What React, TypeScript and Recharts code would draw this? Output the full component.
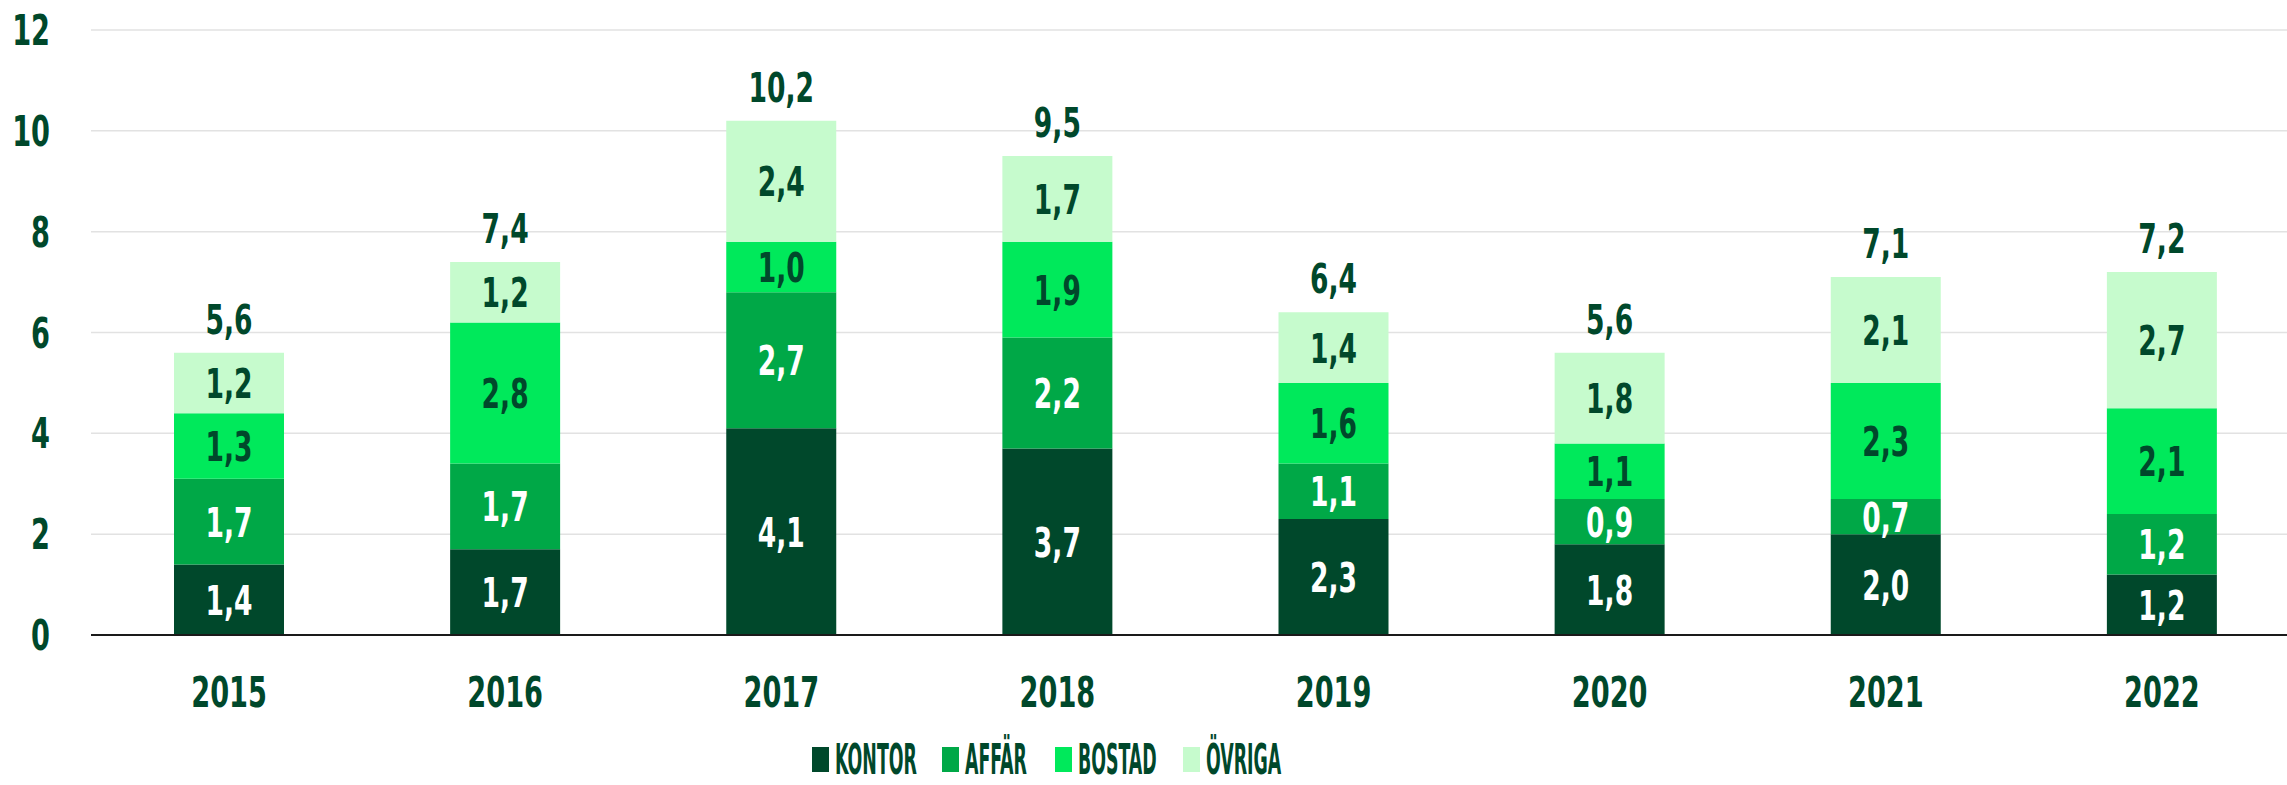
import React from "react";
import {
  BarChart,
  Bar,
  XAxis,
  YAxis,
  CartesianGrid,
  Legend,
  LabelList,
} from "recharts";

const YEARS = ["2015", "2016", "2017", "2018", "2019", "2020", "2021", "2022"];
const KONTOR = [1.4, 1.7, 4.1, 3.7, 2.3, 1.8, 2.0, 1.2];
const AFFAR = [1.7, 1.7, 2.7, 2.2, 1.1, 0.9, 0.7, 1.2];
const BOSTAD = [1.3, 2.8, 1.0, 1.9, 1.6, 1.1, 2.3, 2.1];
const OVRIGA = [1.2, 1.2, 2.4, 1.7, 1.4, 1.8, 2.1, 2.7];
const TOTALS = [5.6, 7.4, 10.2, 9.5, 6.4, 5.6, 7.1, 7.2];
const Y_TICKS = [0, 2, 4, 6, 8, 10, 12];

const DARK = "#00482B";
const FONT = "'DejaVu Sans Condensed', 'Liberation Sans Narrow', sans-serif";
// no condensed display font available, so squeeze the glyphs a bit
const SQUEEZE = 0.72;
const LEGEND_SQUEEZE = 0.46;

const SERIES = [
  { key: "kontor", name: "KONTOR", color: "#00482B", text: "#ffffff", w: 82 },
  { key: "affar", name: "AFFÄR", color: "#00A847", text: "#ffffff", w: 65 },
  { key: "bostad", name: "BOSTAD", color: "#00E95B", text: DARK, w: 80 },
  { key: "ovriga", name: "ÖVRIGA", color: "#C6FBCD", text: DARK, w: 76 },
];

const data = YEARS.map((year, i) => ({
  year,
  kontor: KONTOR[i],
  affar: AFFAR[i],
  bostad: BOSTAD[i],
  ovriga: OVRIGA[i],
  total: TOTALS[i],
}));

const fmt = (v: number) => v.toFixed(1).replace(".", ",");

function NarrowText({ x, y, anchor = "middle", fill = DARK, size = 42, squeeze = SQUEEZE, children }: any) {
  return (
    <text
      transform={`translate(${x},${y}) scale(${squeeze},1)`}
      x={0}
      y={0}
      textAnchor={anchor}
      fill={fill}
      fontSize={size}
      fontWeight={700}
      fontFamily={FONT}
    >
      {children}
    </text>
  );
}

function XTick({ x, y, payload }: any) {
  return (
    <NarrowText x={x} y={y + 72}>
      {payload.value}
    </NarrowText>
  );
}

function YTick({ x, y, payload }: any) {
  return (
    <NarrowText x={x - 41} y={y + 15} anchor="end">
      {payload.value}
    </NarrowText>
  );
}

function segmentLabel(color: string) {
  return ({ x, y, width, height, value }: any) => (
    <NarrowText x={x + width / 2} y={y + height / 2 + 15} fill={color} size={41}>
      {fmt(value)}
    </NarrowText>
  );
}

function TotalLabel({ x, y, width, index }: any) {
  return (
    <NarrowText x={x + width / 2} y={y - 19} size={41}>
      {fmt(TOTALS[index])}
    </NarrowText>
  );
}

function LegendContent() {
  let cx = 812;
  const items = SERIES.map((s) => {
    const x0 = cx;
    cx += 23 + s.w + 25;
    return (
      <g key={s.key}>
        <rect x={x0} y={18} width={17} height={25} fill={s.color} />
        <NarrowText x={x0 + 23} y={45} anchor="start" squeeze={LEGEND_SQUEEZE}>
          {s.name}
        </NarrowText>
      </g>
    );
  });
  return (
    <svg width={2287} height={56} style={{ display: "block" }}>
      {items}
    </svg>
  );
}

export default function App() {
  return (
    <div
      style={{
        position: "absolute",
        left: 0,
        top: 0,
        width: 2287,
        height: 785,
        overflow: "hidden",
        background: "#fff",
      }}
    >
      <BarChart width={2300} height={785} data={data} margin={{ top: 30, right: 0, bottom: 0, left: 0 }}>
        <CartesianGrid vertical={false} stroke="#e2e2e2" strokeWidth={1.5} />
        <XAxis
          dataKey="year"
          height={94}
          tickLine={false}
          tickSize={0}
          tickMargin={0}
          axisLine={{ stroke: "#1a1a1a", strokeWidth: 2 }}
          tick={<XTick />}
          interval={0}
        />
        <YAxis
          width={91}
          domain={[0, 12]}
          ticks={Y_TICKS}
          axisLine={false}
          tickLine={false}
          tickSize={0}
          tickMargin={0}
          tick={<YTick />}
        />
        <Legend
          verticalAlign="bottom"
          content={<LegendContent />}
          wrapperStyle={{ left: 0, bottom: 0, width: 2287, height: 56 }}
        />
        {SERIES.map((s) => (
          <Bar key={s.key} dataKey={s.key} name={s.name} stackId="a" fill={s.color} barSize={110} isAnimationActive={false}>
            <LabelList dataKey={s.key} content={segmentLabel(s.text)} />
            {s.key === "ovriga" && <LabelList dataKey="total" content={<TotalLabel />} />}
          </Bar>
        ))}
      </BarChart>
    </div>
  );
}
